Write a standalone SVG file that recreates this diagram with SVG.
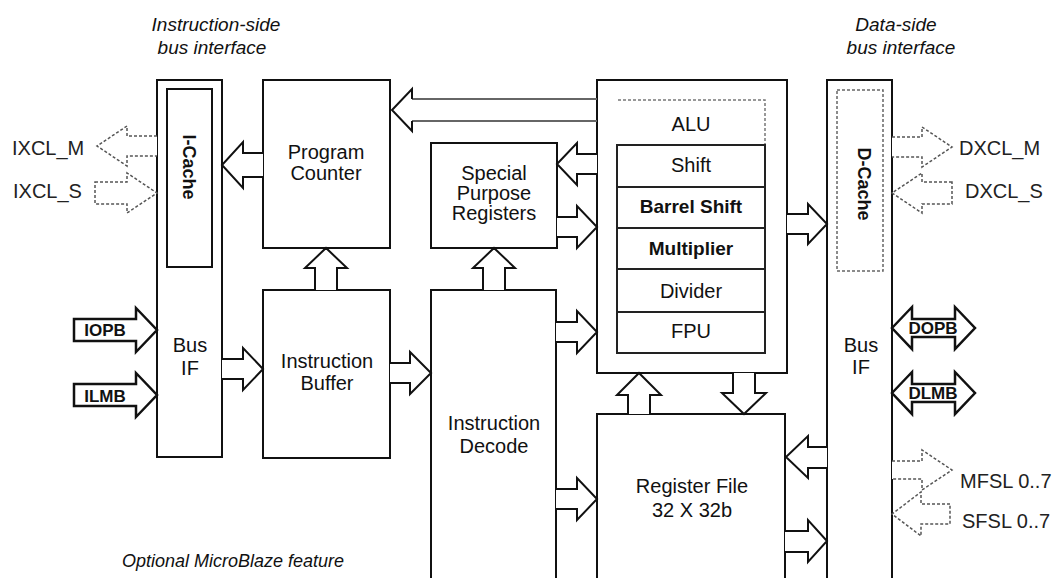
<svg xmlns="http://www.w3.org/2000/svg" width="1056" height="578" viewBox="0 0 1056 578">
<style>
.box{fill:#fff;stroke:#111;stroke-width:2}
.optbox{fill:#fff;stroke:#666;stroke-width:1.5;stroke-dasharray:3 2}
.optline{fill:none;stroke:#777;stroke-width:1.5;stroke-dasharray:3 2}
.arr{fill:#fff;stroke:#111;stroke-width:2;stroke-linejoin:miter}
.arrOpt{fill:#fff;stroke:#555;stroke-width:1.5;stroke-dasharray:3 2}
.shaftGray{fill:none;stroke:#666;stroke-width:2}
.lbl{font-family:"Liberation Sans",Arial,sans-serif;font-size:20px;fill:#111;text-anchor:middle}
.b{font-weight:bold;font-size:19px}
.hdr{font-family:"Liberation Sans",Arial,sans-serif;font-size:19px;font-style:italic;fill:#111;text-anchor:middle}
.sig{font-family:"Liberation Sans",Arial,sans-serif;font-size:20px;fill:#222}
.bus{font-family:"Liberation Sans",Arial,sans-serif;font-size:17px;font-weight:bold;fill:#111;text-anchor:middle}
.rot{font-family:"Liberation Sans",Arial,sans-serif;font-size:18px;font-weight:bold;fill:#111;text-anchor:middle;dominant-baseline:central}
</style>

<g id="headers">
<text class="hdr" x="216" y="31">Instruction-side</text>
<text class="hdr" x="212" y="54">bus interface</text>
<text class="hdr" x="896" y="31">Data-side</text>
<text class="hdr" x="901" y="54">bus interface</text>
<text class="hdr" x="233" y="567" style="font-size:18px">Optional MicroBlaze feature</text>
</g>

<g id="i-bus-if">
<rect class="box" x="157" y="80" width="65" height="377"/>
<rect class="box" x="167" y="89" width="45" height="178"/>
<text class="rot" transform="translate(189,167) rotate(90)">I-Cache</text>
<text class="lbl" x="190" y="352">Bus</text>
<text class="lbl" x="190" y="375">IF</text>
</g>

<g id="program-counter">
<rect class="box" x="263" y="80" width="127" height="168"/>
<text class="lbl" x="326" y="159">Program</text>
<text class="lbl" x="326" y="180">Counter</text>
</g>

<g id="instruction-buffer">
<rect class="box" x="263" y="290" width="127" height="168"/>
<text class="lbl" x="327" y="368">Instruction</text>
<text class="lbl" x="327" y="390">Buffer</text>
</g>

<g id="special-purpose-registers">
<rect class="box" x="431" y="143" width="126" height="105"/>
<text class="lbl" x="494" y="180">Special</text>
<text class="lbl" x="494" y="200">Purpose</text>
<text class="lbl" x="494" y="220">Registers</text>
</g>

<g id="instruction-decode">
<rect class="box" x="431" y="290" width="125" height="320"/>
<text class="lbl" x="494" y="430">Instruction</text>
<text class="lbl" x="494" y="453">Decode</text>
</g>

<g id="alu">
<rect class="box" x="597" y="80" width="190" height="293"/>
<path class="optline" d="M618,100 H765 V145"/>
<text class="lbl" x="691" y="131">ALU</text>
<rect x="617" y="145" width="148" height="208" fill="#fff" stroke="#222" stroke-width="2"/>
<path d="M617,187 H765 M617,228 H765 M617,269 H765 M617,312 H765" stroke="#222" stroke-width="2" fill="none"/>
<text class="lbl" x="691" y="172">Shift</text>
<text class="lbl b" x="691" y="213">Barrel Shift</text>
<text class="lbl b" x="691" y="255">Multiplier</text>
<text class="lbl" x="691" y="298">Divider</text>
<text class="lbl" x="691" y="338">FPU</text>
</g>

<g id="register-file">
<rect class="box" x="597" y="414" width="188" height="200"/>
<text class="lbl" x="692" y="493">Register File</text>
<text class="lbl" x="692" y="517">32 X 32b</text>
</g>

<g id="d-bus-if">
<rect class="box" x="827" y="80" width="65" height="540"/>
<rect class="optbox" x="837" y="90" width="46" height="181"/>
<text class="rot" transform="translate(864,184) rotate(90)">D-Cache</text>
<text class="lbl" x="861" y="352">Bus</text>
<text class="lbl" x="861" y="374">IF</text>
</g>

<g id="signals">
<text class="sig" x="12" y="155">IXCL_M</text>
<text class="sig" x="13" y="198">IXCL_S</text>
<text class="sig" x="959" y="155">DXCL_M</text>
<text class="sig" x="965" y="198">DXCL_S</text>
<text class="sig" x="960" y="488">MFSL 0..7</text>
<text class="sig" x="962" y="528">SFSL 0..7</text>
</g>

<g id="connectors">
<path class="arr" d="M263,153 H243 V142 L222,165 L243,188 V177 H263"/>
<path class="shaftGray" d="M412,99 H597 M412,121 H597"/>
<path class="arr" d="M412,99 V89 L392,110 L412,131 V121"/>
<path class="arr" d="M597,154 H577 V143 L557,164 L577,185 V174 H597"/>
<path class="arr" d="M557,217 H577 V206 L597,227 L577,248 V237 H557"/>
<path class="arr" d="M483,290 V268 H473 L494,248 L515,268 H505 V290"/>
<path class="arr" d="M315,290 V268 H305 L326,248 L347,268 H337 V290"/>
<path class="arr" d="M222,359 H243 V348 L263,369 L243,390 V379 H222"/>
<path class="arr" d="M390,363 H410 V352 L431,373 L410,394 V383 H390"/>
<path class="arr" d="M556,322 H577 V311 L597,332 L577,353 V342 H556"/>
<path class="arr" d="M556,489 H577 V478 L597,499 L577,520 V509 H556"/>
<path class="arr" d="M628,414 V395 H617 L639,373 L661,395 H650 V414"/>
<path class="arr" d="M733,373 V393 H722 L744,414 L766,393 H755 V373"/>
<path class="arr" d="M787,214 H808 V204 L827,224 L808,244 V234 H787"/>
<path class="arr" d="M827,447 H808 V436 L786,457 L808,478 V468 H827"/>
<path class="arr" d="M785,531 H808 V520 L827,541 L808,562 V552 H785"/>
<path class="arrOpt" d="M157,136 H127 V126 L97,146 L127,166 V156 H157"/>
<path class="arrOpt" d="M95,182 H127 V173 L157,193 L127,213 V204 H95 Z"/>
<path class="arrOpt" d="M892,137 H922 V127 L952,147 L922,167 V157 H892"/>
<path class="arrOpt" d="M952,182 H922 V173 L892,193 L922,213 V204 H952 Z"/>
<path class="arrOpt" d="M892,461 H922 V450 L952,470 L922,490 V479 H892"/>
<path class="arrOpt" d="M950,504 H921 V492 L892,514 L921,536 V524 H950 Z"/>
<path class="arr" style="stroke-width:2.5" d="M74,319 H136 V308 L157,330 L136,352 V341 H74 Z"/>
<path class="arr" style="stroke-width:2.5" d="M74,384 H136 V373 L157,395 L136,417 V406 H74 Z"/>
<path class="arr" style="stroke-width:2.5" d="M892,328 L912,307 V319 H955 V307 L975,328 L955,349 V337 H912 V349 Z"/>
<path class="arr" style="stroke-width:2.5" d="M892,393 L912,372 V384 H955 V372 L975,393 L955,414 V402 H912 V414 Z"/>
<text class="bus" x="105" y="336">IOPB</text>
<text class="bus" x="105" y="402">ILMB</text>
<text class="bus" x="933" y="334">DOPB</text>
<text class="bus" x="933" y="399">DLMB</text>
</g>
</svg>
